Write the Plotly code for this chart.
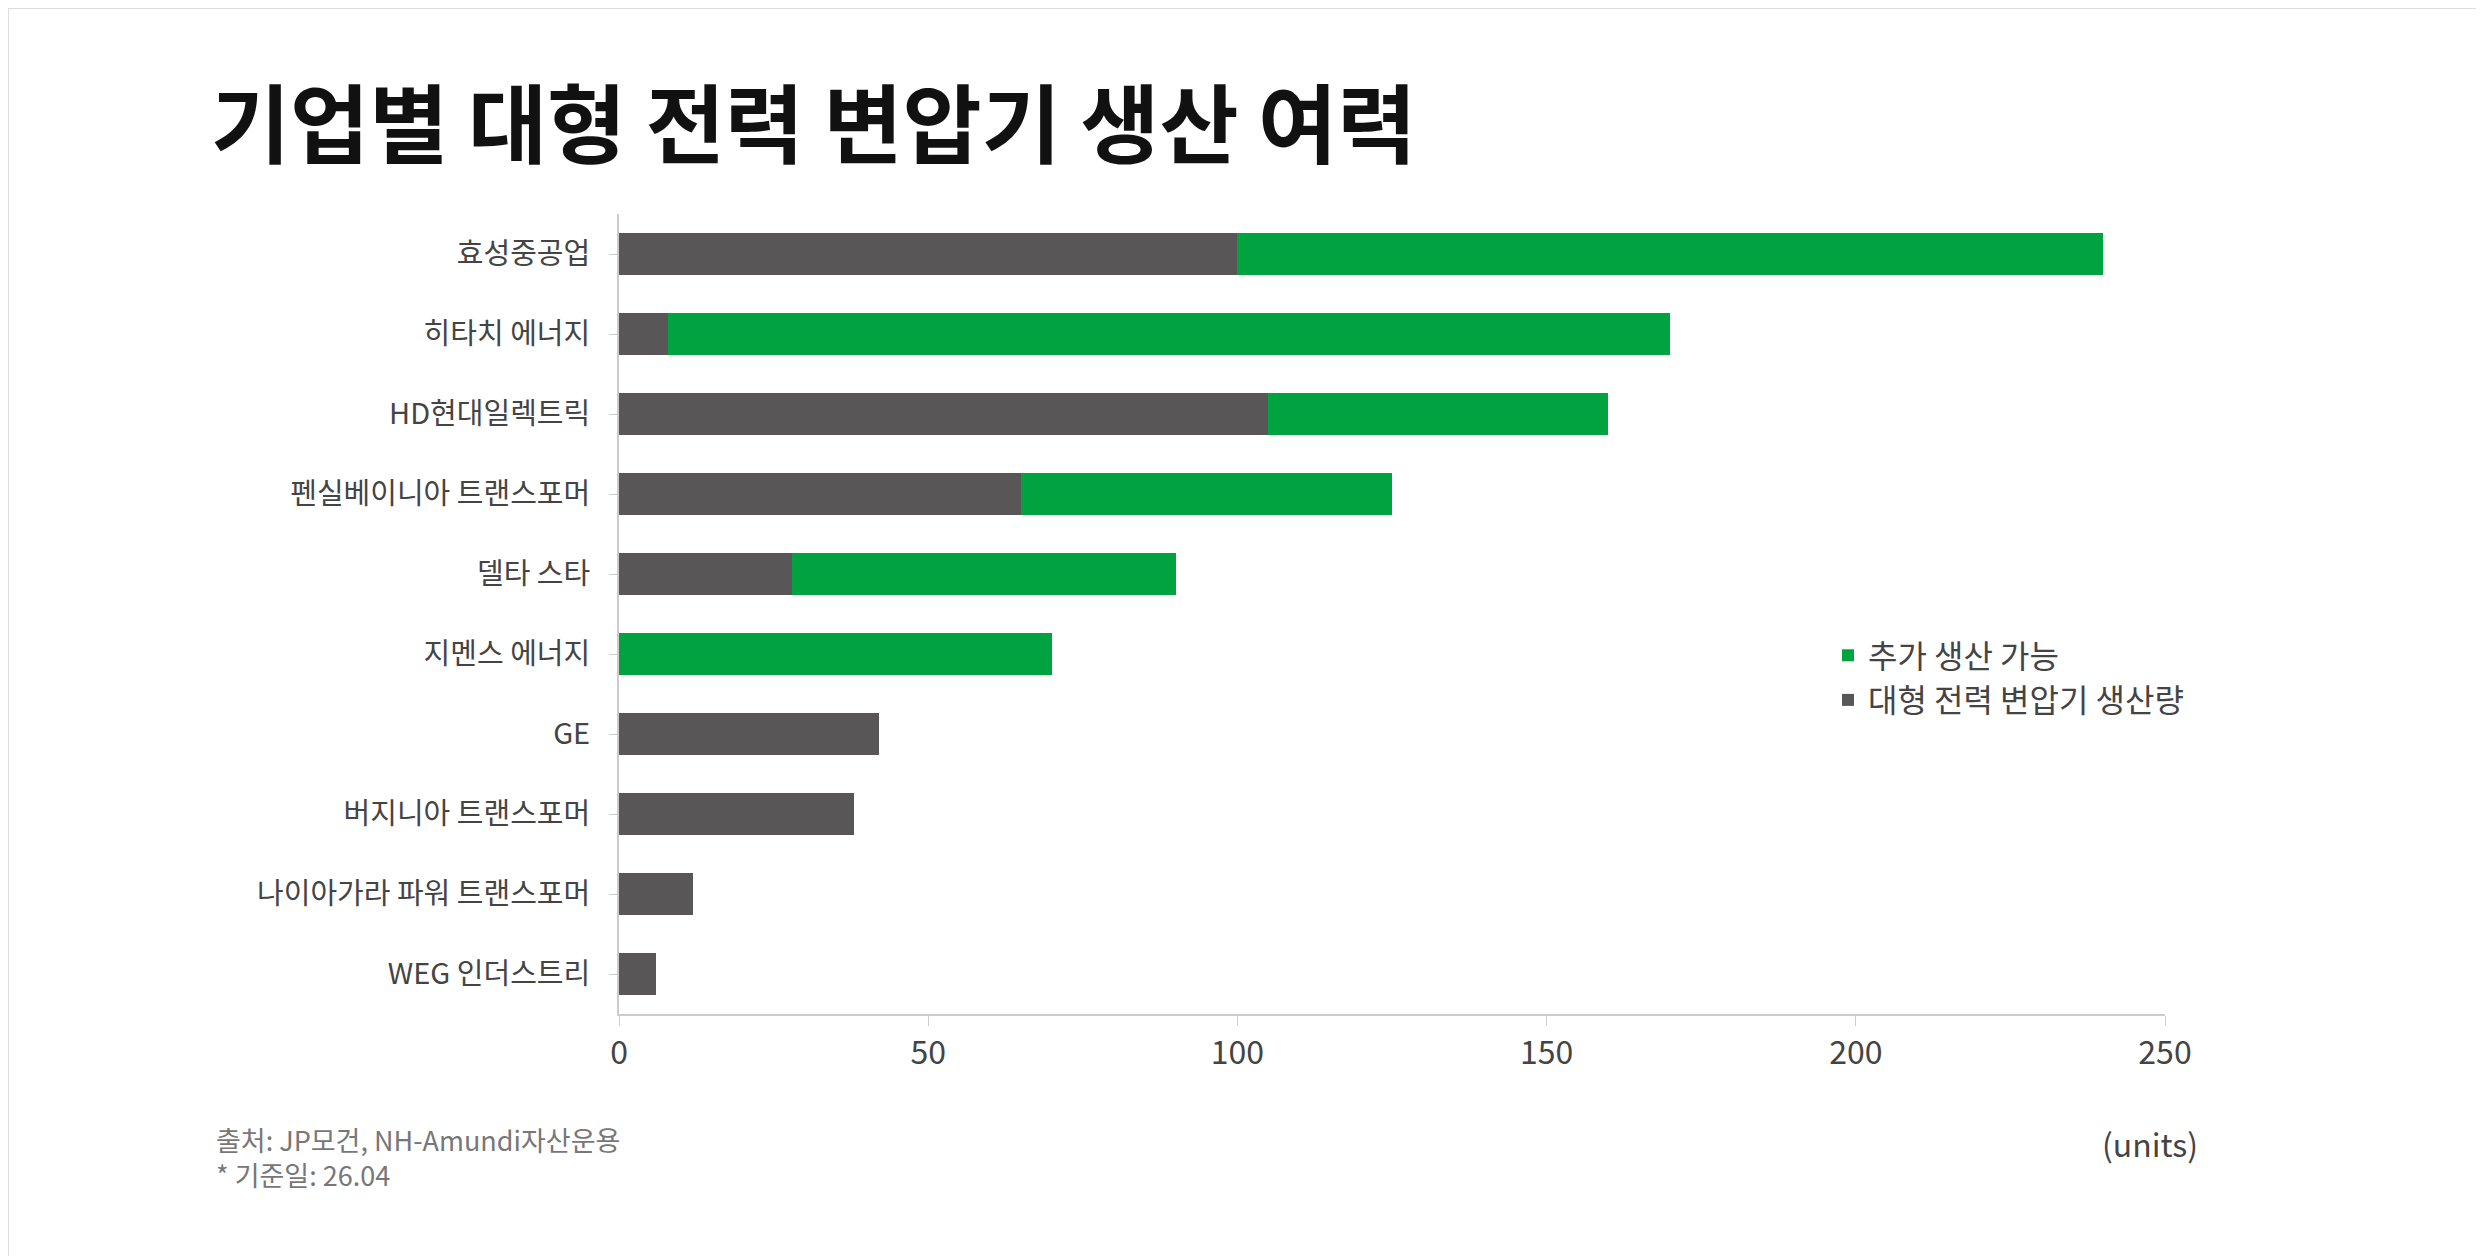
import plotly.graph_objects as go

companies = ["효성중공업", "히타치 에너지", "HD현대일렉트릭", "펜실베이니아 트랜스포머", "델타 스타",
             "지멘스 에너지", "GE", "버지니아 트랜스포머", "나이아가라 파워 트랜스포머", "WEG 인더스트리"]
production = [100, 8, 105, 65, 28, 0, 42, 38, 12, 6]
additional = [140, 162, 55, 60, 62, 70, 0, 0, 0, 0]
x_ticks = [0, 50, 100, 150, 200, 250]

F = "Noto Sans CJK KR"
fig = go.Figure()
fig.add_bar(y=companies, x=production, orientation="h", name="대형 전력 변압기 생산량",
            marker_color="#595657", marker_line_width=0)
fig.add_bar(y=companies, x=additional, orientation="h", name="추가 생산 가능",
            marker_color="#00a33f", marker_line_width=0)

fig.update_layout(
    barmode="stack", bargap=0.48, width=2484, height=1256,
    margin=dict(l=611, r=327, t=206, b=250),
    paper_bgcolor="white", plot_bgcolor="white",
    font=dict(family=F, color="#444444", size=28),
    title=dict(text="<b>기업별 대형 전력 변압기 생산 여력</b>", x=203/2484, xanchor="left",
               y=1-119/1256, yanchor="middle", font=dict(size=86, color="#111111", family=F)),
    legend=dict(x=1820/2484, xref="paper", y=1-620/1256, yref="paper", xanchor="left", yanchor="top",
                font=dict(size=32, color="#444444"), itemwidth=30, tracegroupgap=30, bgcolor="rgba(0,0,0,0)"),
    showlegend=True,
)
fig.update_layout(legend=dict(x=(1820-611)/(2157-611), y=1-(620-206)/800))
fig.update_xaxes(range=[0, 250], tickvals=x_ticks, showgrid=False, zeroline=False,
                 showline=True, linecolor="#cccccc", linewidth=2, ticks="outside", ticklen=10,
                 tickcolor="#cccccc", tickfont=dict(size=32, color="#444444"))
fig.update_yaxes(autorange="reversed", showgrid=False, showline=True, linecolor="#cccccc",
                 linewidth=2, ticks="outside", ticklen=8, tickcolor="#cccccc",
                 tickfont=dict(size=29, color="#444444"), ticksuffix="  ")
fig.add_annotation(text="출처: JP모건, NH-Amundi자산운용<br>* 기준일: 26.04", xref="paper", yref="paper",
                   x=(206-611)/(2157-611), y=-(1110-1006)/800, xanchor="left", yanchor="top",
                   align="left", showarrow=False, font=dict(size=27, color="#777777"))
fig.add_annotation(text="(units)", xref="paper", yref="paper", x=(2192-611)/(2157-611),
                   y=-(1110-1006)/800, xanchor="right", yanchor="top", showarrow=False,
                   font=dict(size=32, color="#444444"))
fig.add_shape(type="rect", xref="paper", yref="paper", x0=-611/1546, x1=(2484-611)/1546,
              y0=-250/800, y1=1+206/800, line=dict(color="#dddddd", width=2))
fig.write_html("out.html")
